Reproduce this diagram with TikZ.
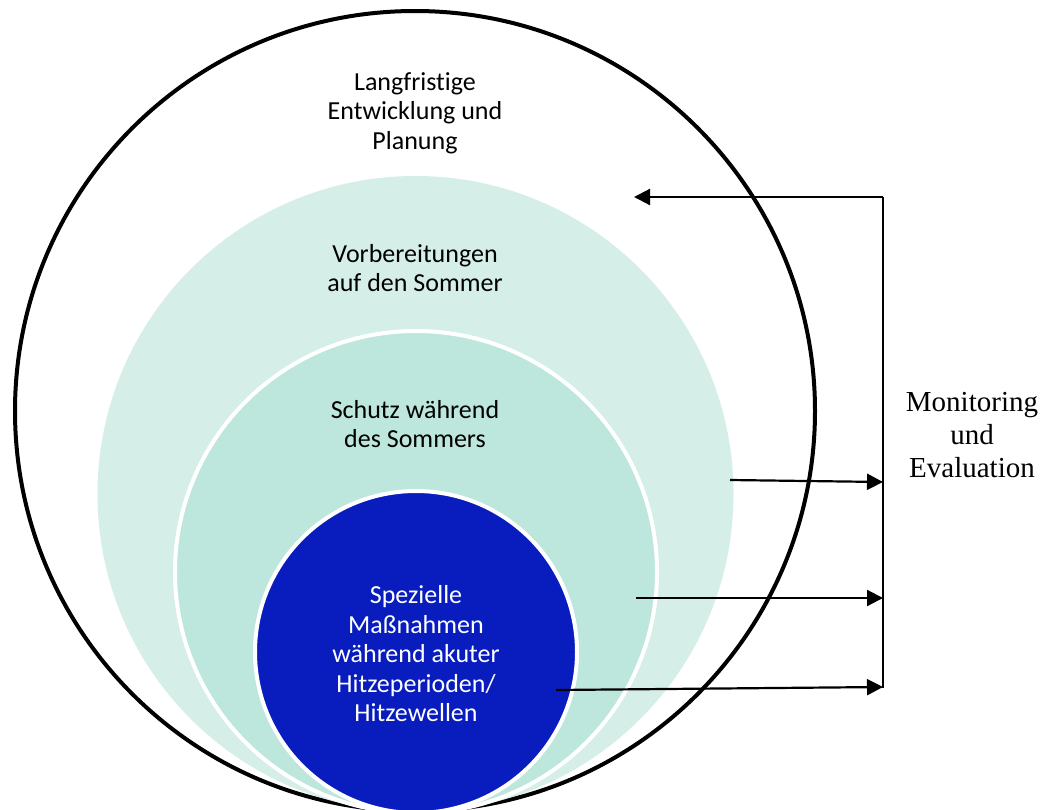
\documentclass[tikz,border=0pt]{standalone}
\usepackage{fontspec}
\setmainfont{Carlito}[Ligatures={NoCommon}]
\newfontfamily\timesfont{Liberation Serif}
\usetikzlibrary{arrows.meta,positioning}

\definecolor{mintlight}{RGB}{213,239,232}
\definecolor{mint}{RGB}{189,231,220}
\definecolor{heatblue}{RGB}{9,29,190}

\begin{document}
\begin{tikzpicture}[x=1pt,y=-1pt,>={Triangle[length=16pt,width=16pt]},
  ring/.style={circle,inner sep=0pt,line width=4pt},
  ringtext/.style={align=center,font=\fontsize{26}{29.5}\selectfont},
  link/.style={->,line width=2.2pt}]

        \path[use as bounding box,clip] (0,0) rectangle (1052,809);

        \node[ring,draw=black,fill=white,minimum size=800pt] (outer) at (415,411) {};
        \node[ring,fill=mintlight,minimum size=636pt] (prep) at (415.5,494) {};
        \node[ring,draw=white,fill=mint,minimum size=482pt] (summer) at (416,572) {};
        \node[ring,draw=white,fill=heatblue,minimum size=322pt] (acute) at (416,652) {};

        \node[ringtext] (t_outer) at (415,113) {Langfristige\\Entwicklung und\\Planung};
        \node[ringtext] (t_prep) at (415,268) {Vorbereitungen\\auf den Sommer};
        \node[ringtext] (t_summer) at (415,424) {Schutz während\\des Sommers};
        \node[ringtext,text=white] (t_acute) at (416,654) {Spezielle\\Maßnahmen\\während akuter\\Hitzeperioden/\\Hitzewellen};
        \node[font=\timesfont\fontsize{29}{33}\selectfont,align=center] (monitor) at (972,435) {Monitoring\\und\\Evaluation};

        \coordinate (bar_top) at (883,197);
        \coordinate (bar_bot) at (883,688);
        \coordinate (into_outer) at (634,197);
        \coordinate (from_prep) at (730,480);
        \coordinate (from_summer) at (636,598);
        \coordinate (from_acute) at (556,690);
        \coordinate (to_prep) at (883,482);
        \coordinate (to_summer) at (883,598);
        \coordinate (to_acute) at (883,687);

        \draw[line width=2.2pt] (bar_top) -- (bar_bot);
        \path (bar_top) edge[link] (into_outer)
        (from_prep) edge[link] (to_prep)
        (from_summer) edge[link] (to_summer)
        (from_acute) edge[link] (to_acute);

    \end{tikzpicture}
\end{document}
